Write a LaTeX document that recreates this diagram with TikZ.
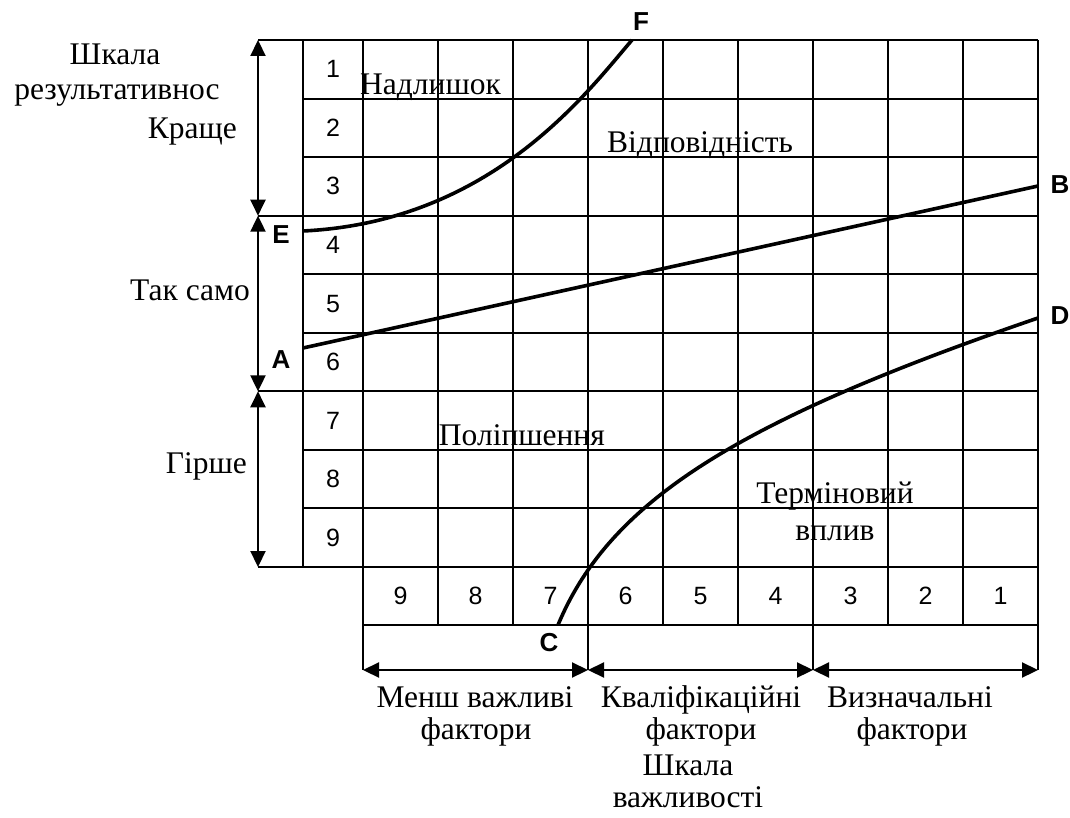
\documentclass[tikz,border=0pt]{standalone}
\usepackage{fontspec}
\setmainfont{Liberation Serif}
\newfontfamily\arialf{Liberation Sans}
\usetikzlibrary{arrows.meta}
\begin{document}
\begin{tikzpicture}[x=1pt,y=-1pt,
  gridline/.style={line width=2pt},
  curveline/.style={line width=3.6pt},
  dimarrow/.style={line width=2.2pt,{Triangle[length=16pt,width=15pt]}-{Triangle[length=16pt,width=15pt]}},
  lbl/.style={font=\fontsize{31.5}{32}\selectfont, inner sep=0pt, anchor=base},
  num/.style={font=\arialf\fontsize{25}{26}\selectfont, inner sep=0pt, anchor=base},
  letter/.style={font=\arialf\bfseries\fontsize{26}{28}\selectfont, inner sep=0pt}]
\useasboundingbox (0,0) rectangle (1070,818);
\def\rh{58.556}
% horizontal grid lines
\foreach \i in {0,...,9}{
  \pgfmathsetmacro\yy{40+\i*\rh}
  \ifnum\i=0 \def\xs{258}\else\ifnum\i=3 \def\xs{258}\else\ifnum\i=6 \def\xs{258}\else\ifnum\i=9 \def\xs{258}\else\def\xs{303}\fi\fi\fi\fi
  \draw[gridline] (\xs,\yy) -- (1038,\yy);
}
\draw[gridline] (363,625) -- (1038,625);
% vertical grid lines
\draw[gridline] (303,40) -- (303,567);
\foreach \j in {0,...,9}{
  \pgfmathsetmacro\xx{363+75*\j}
  \ifnum\j=0 \def\ye{670}\else\ifnum\j=3 \def\ye{670}\else\ifnum\j=6 \def\ye{670}\else\ifnum\j=9 \def\ye{670}\else\def\ye{625}\fi\fi\fi\fi
  \draw[gridline] (\xx,40) -- (\xx,\ye);
}
% numbers
\foreach \i in {1,...,9}{
  \node[num] (l\i) at (333,{40+(\i-0.5)*\rh+8.5}) {\i};
  \pgfmathtruncatemacro\k{10-\i}
  \node[num] (b\i) at ({363+75*(\i-0.5)},604) {\k};
}
% dimension arrows
\coordinate (v0) at (258,40);
\coordinate (v1) at (258,215.7);
\coordinate (v2) at (258,391.3);
\coordinate (v3) at (258,567);
\draw[dimarrow] (v0) -- (v1);
\draw[dimarrow] (v1) -- (v2);
\draw[dimarrow] (v2) -- (v3);
\coordinate (h0) at (363,670);
\coordinate (h1) at (588,670);
\coordinate (h2) at (813,670);
\coordinate (h3) at (1038,670);
\draw[dimarrow] (h0) -- (h1);
\draw[dimarrow] (h1) -- (h2);
\draw[dimarrow] (h2) -- (h3);
% curves
\coordinate (pE) at (303,231);
\coordinate (pF) at (632,40);
\coordinate (pA) at (303,348);
\coordinate (pB) at (1038,186);
\coordinate (pC) at (558,625);
\coordinate (pD) at (1038,318);
\draw[curveline] (pE) .. controls (490,222) and (585,95) .. (pF);
\draw[curveline] (pA) -- (pB);
\draw[curveline] (pC) .. controls (610,500) and (740,420) .. (pD);
% letters
\node[letter] (F) at (641,22) {F};
\node[letter] (B) at (1060,185) {B};
\node[letter] (D) at (1060,316) {D};
\node[letter] (E) at (281,235) {E};
\node[letter] (A) at (281,360) {A};
\node[letter] (C) at (549,643) {C};
% text labels
\node[lbl] (t1) at (115,65) {Шкала};
\node[lbl] (t2) at (117,100) {результативнос};
\node[lbl,anchor=base east] (t3) at (237,139) {Краще};
\node[lbl,anchor=base east] (t4) at (250,300) {Так само};
\node[lbl,anchor=base east] (t5) at (247,473) {Гірше};
\node[lbl,anchor=base west] (t6) at (360,95) {Надлишок};
\node[lbl,anchor=base west] (t7) at (607,153) {Відповідність};
\node[lbl,anchor=base east] (t8) at (605,445) {Поліпшення};
\node[lbl] (t9) at (835,503) {Терміновий};
\node[lbl] (t10) at (835,540) {вплив};
\node[lbl] (t11) at (475,707) {Менш важливі};
\node[lbl] (t12) at (476,739) {фактори};
\node[lbl] (t13) at (701,707) {Кваліфікаційні};
\node[lbl] (t14) at (701,739) {фактори};
\node[lbl] (t15) at (688,775) {Шкала};
\node[lbl] (t16) at (688,807) {важливості};
\node[lbl] (t17) at (910,707) {Визначальні};
\node[lbl] (t18) at (912,739) {фактори};
\end{tikzpicture}
\end{document}
